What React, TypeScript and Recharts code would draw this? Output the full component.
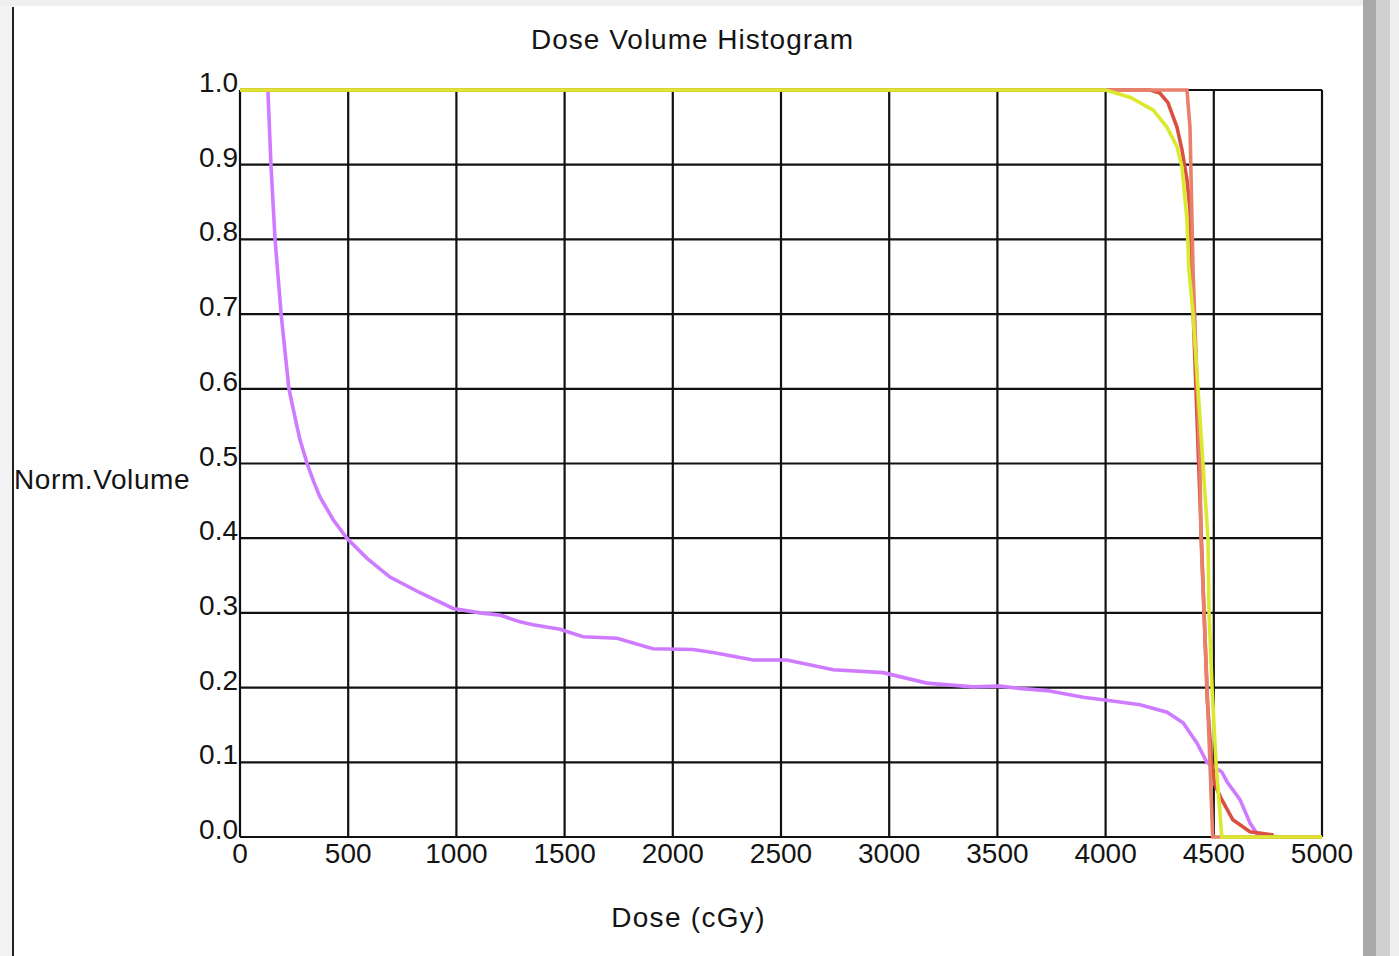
import { LineChart, Line, XAxis, YAxis, CartesianGrid } from 'recharts';

// dose (cGy) / normalized volume pairs
const purpleDose = [0, 129, 143, 162, 190, 208, 226, 263, 277, 310, 340, 370, 430, 494, 587, 693, 832, 985, 1109, 1201, 1294, 1354, 1479, 1585, 1742, 1908, 2093, 2186, 2371, 2527, 2741, 2972, 3174, 3387, 3512, 3600, 3729, 3896, 4006, 4159, 4284, 4358, 4422, 4468, 4537, 4561, 4621, 4667, 4700, 4720, 5000];
const purpleVol = [1.0, 1.0, 0.9, 0.8, 0.7, 0.65, 0.6, 0.55, 0.532, 0.5, 0.476, 0.455, 0.425, 0.4, 0.373, 0.348, 0.327, 0.306, 0.3, 0.297, 0.288, 0.284, 0.278, 0.268, 0.266, 0.252, 0.251, 0.247, 0.237, 0.237, 0.224, 0.22, 0.206, 0.201, 0.202, 0.199, 0.196, 0.187, 0.183, 0.177, 0.167, 0.153, 0.126, 0.1, 0.087, 0.074, 0.05, 0.019, 0.004, 0, 0];

const redDose = [0, 4205, 4251, 4288, 4330, 4353, 4376, 4390, 4405, 4430, 4455, 4470, 4490, 4505, 4537, 4588, 4667, 4769, 4775, 5000];
const redVol = [1.0, 1.0, 0.996, 0.983, 0.95, 0.92, 0.88, 0.84, 0.7, 0.5, 0.3, 0.183, 0.1, 0.07, 0.05, 0.023, 0.007, 0.003, 0, 0];

const salmonDose = [0, 4376, 4390, 4404, 4436, 4441, 4455, 4469, 4482, 4495, 5000];
const salmonVol = [1.0, 1.0, 0.95, 0.76, 0.5, 0.4, 0.3, 0.2, 0.1, 0, 0];

const yellowDose = [0, 4000, 4115, 4220, 4284, 4330, 4353, 4376, 4385, 4404, 4427, 4450, 4473, 4478, 4492, 4510, 4537, 5000];
const yellowVol = [1.0, 1.0, 0.99, 0.973, 0.95, 0.924, 0.897, 0.826, 0.76, 0.7, 0.6, 0.5, 0.4, 0.3, 0.2, 0.1, 0, 0];

const doseTicks = [0, 500, 1000, 1500, 2000, 2500, 3000, 3500, 4000, 4500, 5000];
const volTicks = [0, 0.1, 0.2, 0.3, 0.4, 0.5, 0.6, 0.7, 0.8, 0.9, 1.0];

const toPoints = (dose: number[], vol: number[]) => dose.map((d, i) => ({ dose: d, volume: vol[i] }));

const series = [
  { name: 'purple', data: toPoints(purpleDose, purpleVol), color: '#cf7bff' },
  { name: 'red', data: toPoints(redDose, redVol), color: '#d9503f' },
  { name: 'salmon', data: toPoints(salmonDose, salmonVol), color: '#e8806c' },
  { name: 'yellow', data: toPoints(yellowDose, yellowVol), color: '#dbe92e' },
];

const FONT = '"Liberation Sans", Arial, sans-serif';
const TEXT = '#141414';
const PLOT_BOTTOM = 837;

const XTick = (props: any) => (
  <text x={props.x} y={PLOT_BOTTOM + 26} textAnchor="middle" fontFamily={FONT} fontSize={28} fill={TEXT}>
    {props.payload.value}
  </text>
);

const YTick = (props: any) => (
  <text x={238} y={props.y + 2} textAnchor="end" fontFamily={FONT} fontSize={28} fill={TEXT}>
    {Number(props.payload.value).toFixed(1)}
  </text>
);

const labelStyle = { position: 'absolute' as const, fontFamily: FONT, fontSize: 28, color: TEXT, lineHeight: '36px' };

export default function App() {
  return (
    <div style={{ position: 'fixed', left: 0, top: 0, width: 1399, height: 956, background: '#fff', overflow: 'hidden' }}>
      {/* window frame */}
      <div style={{ position: 'absolute', left: 0, top: 0, width: 1363, height: 6, background: '#efefef' }} />
      <div style={{ position: 'absolute', left: 0, top: 6, width: 12, height: 950, background: '#f3f3f3' }} />
      <div style={{ position: 'absolute', left: 12, top: 7, width: 2, height: 949, background: '#222' }} />
      <div style={{ position: 'absolute', left: 1363, top: 0, width: 13, height: 956, background: '#a9a9a9' }} />
      <div style={{ position: 'absolute', left: 1376, top: 0, width: 14, height: 956, background: '#cfcfcf' }} />
      <div style={{ position: 'absolute', left: 1390, top: 0, width: 9, height: 956, background: '#efefef' }} />

      <div style={{ position: 'absolute', left: 0, top: 0 }}>
        <LineChart width={1363} height={956} margin={{ top: 90, left: 210, right: 41, bottom: 89 }}>
          <CartesianGrid stroke="#111" strokeWidth={2.2} />
          <XAxis
            type="number"
            dataKey="dose"
            domain={[0, 5000]}
            ticks={doseTicks}
            tick={<XTick />}
            tickLine={false}
            axisLine={false}
            height={30}
            allowDuplicatedCategory={false}
          />
          <YAxis
            type="number"
            domain={[0, 1]}
            ticks={volTicks}
            tick={<YTick />}
            tickLine={false}
            axisLine={false}
            width={30}
          />
          {series.map((s) => (
            <Line
              key={s.name}
              data={s.data}
              dataKey="volume"
              type="linear"
              stroke={s.color}
              strokeWidth={3.6}
              dot={false}
              activeDot={false}
              isAnimationActive={false}
            />
          ))}
        </LineChart>
      </div>

      <div style={{ ...labelStyle, left: 0, width: 1385, top: 22, textAlign: 'center', letterSpacing: 1 }}>
        Dose Volume Histogram
      </div>
      <div style={{ ...labelStyle, left: 14, top: 462, letterSpacing: 0.6 }}>
        Norm.Volume
      </div>
      <div style={{ ...labelStyle, left: 0, width: 1377, top: 900, textAlign: 'center', letterSpacing: 1.3 }}>
        Dose (cGy)
      </div>
    </div>
  );
}
